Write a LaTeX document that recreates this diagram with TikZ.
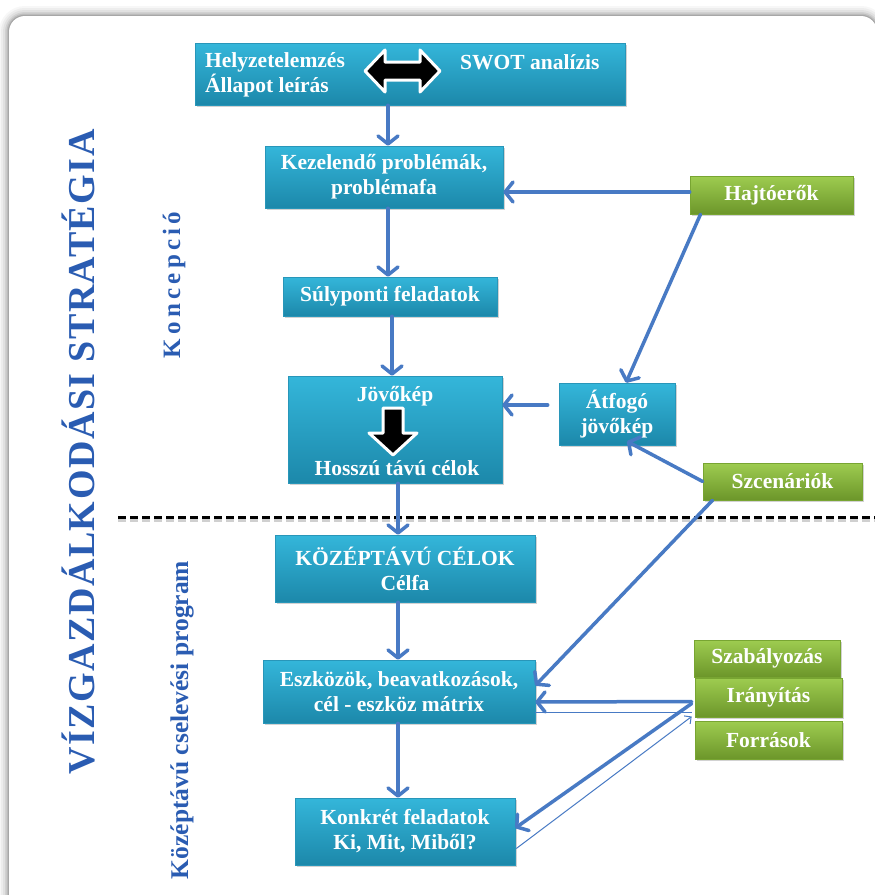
\documentclass[tikz,border=0pt]{standalone}
\usepackage{fontspec}
\setmainfont{Liberation Serif}
\newfontfamily\ttlfont[LetterSpace=4]{Liberation Serif}
\newfontfamily\konfont[LetterSpace=17]{Liberation Serif}
\usetikzlibrary{arrows.meta,shadows}
\definecolor{arrblue}{RGB}{72,122,196}
\definecolor{boxtop}{RGB}{52,182,218}
\definecolor{boxbot}{RGB}{28,136,170}
\definecolor{boxedge}{RGB}{40,150,185}
\definecolor{grtop}{RGB}{158,204,80}
\definecolor{grbot}{RGB}{108,150,42}
\definecolor{gredge}{RGB}{120,165,50}
\definecolor{sideblue}{RGB}{42,92,178}
\newcommand{\boxfont}{\bfseries\fontsize{21.5}{25}\selectfont}
\begin{document}
\begin{tikzpicture}[x=1pt,y=-1pt,
  bbox/.style={rectangle, top color=boxtop, bottom color=boxbot, draw=boxedge, line width=0.6pt,
    text=white, font=\boxfont, align=center, inner sep=0pt,
    drop shadow={opacity=0.35, shadow xshift=1.5pt, shadow yshift=-1.5pt}},
  gbox/.style={rectangle, top color=grtop, bottom color=grbot, draw=gredge, line width=0.6pt,
    text=white, font=\boxfont, align=center, inner sep=0pt,
    drop shadow={opacity=0.35, shadow xshift=1.5pt, shadow yshift=-1.5pt}},
  txt/.style={text=white, font=\boxfont, inner sep=0pt},
  arr/.style={draw=arrblue, line width=3.5pt, line cap=round,
    -{Straight Barb[length=8pt,width=20pt,round]}},
  thinarr/.style={draw=arrblue, line width=1pt, -{Straight Barb[length=5pt,width=10pt]}},
  thinline/.style={draw=arrblue, line width=1pt},
  side/.style={text=sideblue, inner sep=0pt}
]
\useasboundingbox (0,0) rectangle (875,895);
\clip (0,0) rectangle (875,895);
% frame with soft shadow
\foreach \w/\o in {20/0.03,16/0.04,12/0.05,8/0.07,5/0.09,2.5/0.12}
  \draw[black, opacity=\o, line width=\w pt, rounded corners=16pt] (9,16) rectangle (877,915);
\fill[white, rounded corners=16pt] (9,16) rectangle (877,915);

% dashed separator
\coordinate (dl) at (118,517);
\coordinate (dr) at (875,517);
\draw[black!30, line width=3pt, dash pattern=on 8pt off 4pt, opacity=0.6, transform canvas={yshift=-3pt}] (dl) -- (dr);
\draw[black, line width=3pt, dash pattern=on 8pt off 4pt] (dl) -- (dr);

% side texts
\node[side, rotate=90, font=\ttlfont\bfseries\fontsize{38}{40}\selectfont] (title) at (78,452) {VÍZGAZDÁLKODÁSI STRATÉGIA};
\node[side, rotate=90, font=\konfont\bfseries\fontsize{25}{28}\selectfont] (konc) at (174,285) {Koncepció};
\node[side, rotate=90, font=\bfseries\fontsize{25.5}{28}\selectfont] (kozp) at (182,720) {Középtávú cselevési program};

% blue boxes
\node[bbox, minimum width=430, minimum height=62] (top) at (410,74) {};
\node[txt, anchor=west, align=left] (helyz) at (205,75) {Helyzetelemzés\\Állapot leírás};
\node[txt, anchor=west] (swot) at (460,62) {SWOT analízis};
\draw[white, line width=3pt, line join=round, fill=black]
  (365,71) -- (385,50) -- (385,62) -- (420,62) -- (420,50) -- (440,71) -- (420,92) -- (420,80) -- (385,80) -- (385,92) -- cycle;

\node[bbox, minimum width=238, minimum height=62] (kez) at (384,177) {Kezelendő problémák,\\problémafa};
\node[bbox, minimum width=214, minimum height=39] (suly) at (390,296.5) {Súlyponti feladatok};
\node[bbox, minimum width=214, minimum height=107] (jov) at (395,429.5) {};
\node[txt] (jovt) at (395,396) {Jövőkép};
\draw[white, line width=3pt, line join=round, fill=black]
  (383,408) -- (403,408) -- (403,433) -- (417,433) -- (393,455) -- (369,433) -- (383,433) -- cycle;
\node[txt] (hossz) at (397,468) {Hosszú távú célok};
\node[bbox, minimum width=116, minimum height=62] (atf) at (617,414) {Átfogó\\jövőkép};
\node[bbox, minimum width=260, minimum height=67] (kozep) at (405,568.5) {KÖZÉPTÁVÚ CÉLOK\\Célfa};
\node[bbox, minimum width=272, minimum height=63] (eszk) at (399,691.5) {Eszközök, beavatkozások,\\cél - eszköz mátrix};
\node[bbox, minimum width=220, minimum height=67] (konk) at (405,831.5) {Konkrét feladatok\\Ki, Mit, Miből?};

% green boxes
\node[gbox, minimum width=163, minimum height=38] (hajt) at (771.5,195) {Hajtóerők};
\node[gbox, minimum width=159, minimum height=37] (szcen) at (782.5,481.5) {Szcenáriók};
\node[gbox, minimum width=146, minimum height=37] (szab) at (767,658.5) {Szabályozás};
\node[gbox, minimum width=147, minimum height=39] (iran) at (768.5,697.5) {Irányítás};
\node[gbox, minimum width=147, minimum height=38] (forr) at (768.5,740) {Források};

% vertical flow
\draw[arr] ([xshift=-22pt]top.south) -- ([xshift=4pt]kez.north);
\draw[arr] ([xshift=4pt]kez.south) -- ([xshift=-2pt]suly.north);
\draw[arr] ([xshift=2pt]suly.south) -- ([xshift=-3pt]jov.north);
\draw[arr] ([xshift=3pt]jov.south) -- ([xshift=-7pt]kozep.north);
\draw[arr] ([xshift=-7pt]kozep.south) -- ([xshift=-1pt]eszk.north);
\draw[arr] ([xshift=-1pt]eszk.south) -- ([xshift=-7pt]konk.north);

% side connectors
\draw[arr] ([yshift=3pt]hajt.west) -- ([yshift=-15pt]kez.east);
\draw[arr] ([xshift=-71pt]hajt.south) -- ([xshift=9pt]atf.north);
\draw[arr] ([xshift=-11pt,yshift=9pt]atf.west) -- ([yshift=24.5pt]jov.east);
\draw[arr] (szcen.west) -- ([xshift=10pt,yshift=4pt]atf.south);
\draw[arr] ([xshift=-70pt]szcen.south) -- ([yshift=6pt]eszk.east);
\draw[arr] ([xshift=-3pt,yshift=-4pt]iran.west) -- ([yshift=-10.5pt]eszk.east);
\draw[thinline] ([yshift=-20.5pt]eszk.east) -- ([xshift=-3pt,yshift=-14.5pt]iran.west);
\draw[arr] ([xshift=-3pt,yshift=-6pt]iran.west) -- ([yshift=3.5pt]konk.east);
\draw[thinarr] ([xshift=1pt,yshift=-17pt]konk.east) -- ([xshift=-3pt,yshift=-19pt]iran.west);
\end{tikzpicture}
\end{document}
